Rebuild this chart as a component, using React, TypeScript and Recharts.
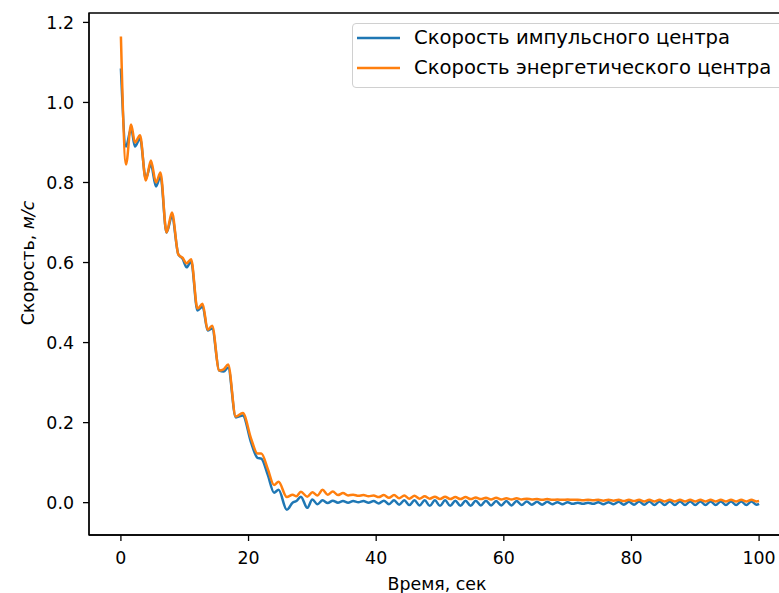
import React from "react";
import { LineChart, Line, XAxis, YAxis, ReferenceArea } from "recharts";

const SERIES_NAMES = ["Скорость импульсного центра", "Скорость энергетического центра"];
const SERIES_COLORS = ["#1f77b4", "#ff7f0e"];
const X_LABEL = "Время, сек";
const Y_LABEL_MAIN = "Скорость, ";
const Y_LABEL_UNIT = "м/с";

const X_TICKS = [0, 20, 40, 60, 80, 100];
const Y_TICKS = [0, 0.2, 0.4, 0.6, 0.8, 1.0, 1.2];

const TIME = [
  0, 0.8, 1.6, 2.2, 3.0, 3.9, 4.7, 5.5, 6.2, 7.15, 8.0, 9.0, 9.65, 10.3, 11.0, 12.0, 12.8, 13.6, 14.3,
  15.4, 16.1, 16.8, 18.0, 19.1, 20.4, 21.4, 22.0, 23.0, 24.0, 24.7, 26.0, 26.9, 27.5, 28.2,
  29.2, 30, 30.8, 31.6, 32.4, 33.2, 34, 34.8, 35.6, 36.4, 37.2, 38, 38.8, 39.6, 40.4, 41.2, 42, 42.8,
  43.6, 44.4, 45.2, 46, 46.8, 47.6, 48.4, 49.2, 50, 50.8, 51.6, 52.4, 53.2, 54, 54.8, 55.6, 56.4, 57.2,
  58, 58.8, 59.6, 60.4, 61.2, 62, 62.8, 63.6, 64.4, 65.2, 66, 66.8, 67.6, 68.4, 69.2, 70, 70.8, 71.6,
  72.4, 73.2, 74, 74.8, 75.6, 76.4, 77.2, 78, 78.8, 79.6, 80.4, 81.2, 82, 82.8, 83.6, 84.4, 85.2, 86,
  86.8, 87.6, 88.4, 89.2, 90, 90.8, 91.6, 92.4, 93.2, 94, 94.8, 95.6, 96.4, 97.2, 98, 98.8, 99.6, 100,
];

const IMPULSE = [
  1.085, 0.89, 0.935, 0.89, 0.91, 0.81, 0.845, 0.79, 0.815, 0.675, 0.715, 0.62, 0.61, 0.588, 0.603, 0.48, 0.49, 0.43, 0.435,
  0.33, 0.328, 0.338, 0.213, 0.218, 0.15, 0.112, 0.11, 0.07, 0.025, 0.032, -0.018, 0.0, 0.004, 0.015,
  -0.013, 0.008, -0.004, 0.006, -0.001, 0.005, 0.0, 0.004, 0.0, 0.004, 0.001, 0.004, 0.0, 0.004, -0.002, 0.005, -0.004, 0.006,
  -0.005, 0.006, -0.006, 0.006, -0.007, 0.006, -0.008, 0.006, -0.008, 0.006, -0.008, 0.005, -0.008, 0.005, -0.008, 0.005, -0.007, 0.005,
  -0.007, 0.004, -0.007, 0.004, -0.007, 0.004, -0.006, 0.003, -0.005, 0.002, -0.005, 0.002, -0.004, 0.001, -0.004, 0.001, -0.003, 0.0,
  -0.003, 0.0, -0.003, 0.001, -0.004, 0.001, -0.004, 0.002, -0.005, 0.002, -0.005, 0.003, -0.005, 0.003, -0.006, 0.003, -0.006, 0.003,
  -0.006, 0.003, -0.006, 0.003, -0.006, 0.003, -0.006, 0.003, -0.006, 0.003, -0.006, 0.003, -0.006, 0.003, -0.006, 0.003, -0.005, -0.003,
];

const ENERGY = [
  1.165, 0.845, 0.945, 0.9, 0.918, 0.805, 0.855, 0.8, 0.825, 0.675, 0.725, 0.62, 0.612, 0.598, 0.608, 0.485, 0.497, 0.432, 0.442,
  0.33, 0.333, 0.345, 0.215, 0.224, 0.16, 0.123, 0.123, 0.085, 0.044, 0.052, 0.014, 0.02, 0.016, 0.027,
  0.015, 0.026, 0.018, 0.032, 0.02, 0.028, 0.019, 0.024, 0.018, 0.02, 0.017, 0.019, 0.016, 0.018, 0.014, 0.019, 0.012, 0.019,
  0.011, 0.018, 0.01, 0.017, 0.01, 0.016, 0.01, 0.015, 0.009, 0.015, 0.009, 0.014, 0.009, 0.014, 0.009, 0.013, 0.009, 0.012,
  0.008, 0.012, 0.008, 0.011, 0.008, 0.011, 0.008, 0.01, 0.008, 0.009, 0.007, 0.009, 0.007, 0.008, 0.007, 0.008, 0.007, 0.007,
  0.006, 0.007, 0.006, 0.007, 0.005, 0.007, 0.005, 0.007, 0.004, 0.007, 0.004, 0.007, 0.003, 0.007, 0.003, 0.007, 0.003, 0.007,
  0.003, 0.007, 0.003, 0.007, 0.003, 0.007, 0.003, 0.007, 0.003, 0.007, 0.003, 0.007, 0.003, 0.007, 0.003, 0.007, 0.003, 0.004,
];

const data = TIME.map((t, i) => ({ t, impulse: IMPULSE[i], energy: ENERGY[i] }));

const X_DOMAIN: [number, number] = [-5, 105];
const Y_DOMAIN: [number, number] = [-0.0808, 1.2235];
const FONT = "'DejaVu Sans', sans-serif";
const TICK_FS = 17.4;
const LEGEND_FS = 19.6;

export default function App() {
  return (
    <div
      style={{
        position: "absolute",
        left: 0,
        top: 0,
        width: 779,
        height: 593,
        overflow: "hidden",
        background: "#fff",
        fontFamily: FONT,
      }}
    >
      <LineChart width={800} height={593} data={data} margin={{ top: 13, right: 9, bottom: 0, left: 0 }}>
        <XAxis
          dataKey="t"
          type="number"
          domain={X_DOMAIN}
          ticks={X_TICKS}
          allowDataOverflow
          height={58}
          stroke="#000"
          strokeWidth={1.3}
          tickSize={6}
          tickMargin={11}
          tick={{ fill: "#000", fontSize: TICK_FS, fontFamily: FONT }}
        />
        <YAxis
          type="number"
          domain={Y_DOMAIN}
          ticks={Y_TICKS}
          allowDataOverflow
          width={89}
          stroke="#000"
          strokeWidth={1.3}
          tickSize={6}
          tickMargin={9}
          tickFormatter={(v: number) => v.toFixed(1)}
          tick={{ fill: "#000", fontSize: TICK_FS, fontFamily: FONT }}
        />
        <ReferenceArea
          x1={X_DOMAIN[0]}
          x2={X_DOMAIN[1]}
          y1={Y_DOMAIN[0]}
          y2={Y_DOMAIN[1]}
          fill="none"
          fillOpacity={0}
          stroke="#000"
          strokeWidth={1.3}
          ifOverflow="visible"
        />
        <Line
          dataKey="impulse"
          name={SERIES_NAMES[0]}
          type="monotone"
          stroke={SERIES_COLORS[0]}
          strokeWidth={2.5}
          dot={false}
          isAnimationActive={false}
        />
        <Line
          dataKey="energy"
          name={SERIES_NAMES[1]}
          type="monotone"
          stroke={SERIES_COLORS[1]}
          strokeWidth={2.5}
          dot={false}
          isAnimationActive={false}
        />
      </LineChart>

      {/* Y axis label */}
      <div
        style={{
          position: "absolute",
          left: 28,
          top: 263,
          transform: "translate(-50%, -50%) rotate(-90deg)",
          whiteSpace: "nowrap",
          fontSize: TICK_FS,
          color: "#000",
          lineHeight: "20px",
        }}
      >
        {Y_LABEL_MAIN}
        <i>{Y_LABEL_UNIT}</i>
      </div>

      {/* X axis label */}
      <div
        style={{
          position: "absolute",
          left: 437,
          top: 574,
          transform: "translateX(-50%)",
          whiteSpace: "nowrap",
          fontSize: TICK_FS,
          color: "#000",
          lineHeight: "20px",
        }}
      >
        {X_LABEL}
      </div>

      {/* Legend */}
      <div
        style={{
          position: "absolute",
          left: 352,
          top: 23,
          width: 440,
          height: 65,
          border: "1px solid #d0d0d0",
          borderRadius: 4,
          background: "rgba(255,255,255,0.8)",
          boxSizing: "border-box",
        }}
      >
        {SERIES_NAMES.map((name, i) => (
          <div
            key={name}
            style={{
              position: "absolute",
              left: 0,
              top: 2 + i * 30,
              height: 24,
              display: "flex",
              alignItems: "center",
              whiteSpace: "nowrap",
            }}
          >
            <svg width={61} height={24} style={{ display: "block", flex: "none" }}>
              <line x1={4} x2={47} y1={12} y2={12} stroke={SERIES_COLORS[i]} strokeWidth={2.5} />
            </svg>
            <span style={{ fontSize: LEGEND_FS, color: "#000", lineHeight: "24px" }}>{name}</span>
          </div>
        ))}
      </div>
    </div>
  );
}
